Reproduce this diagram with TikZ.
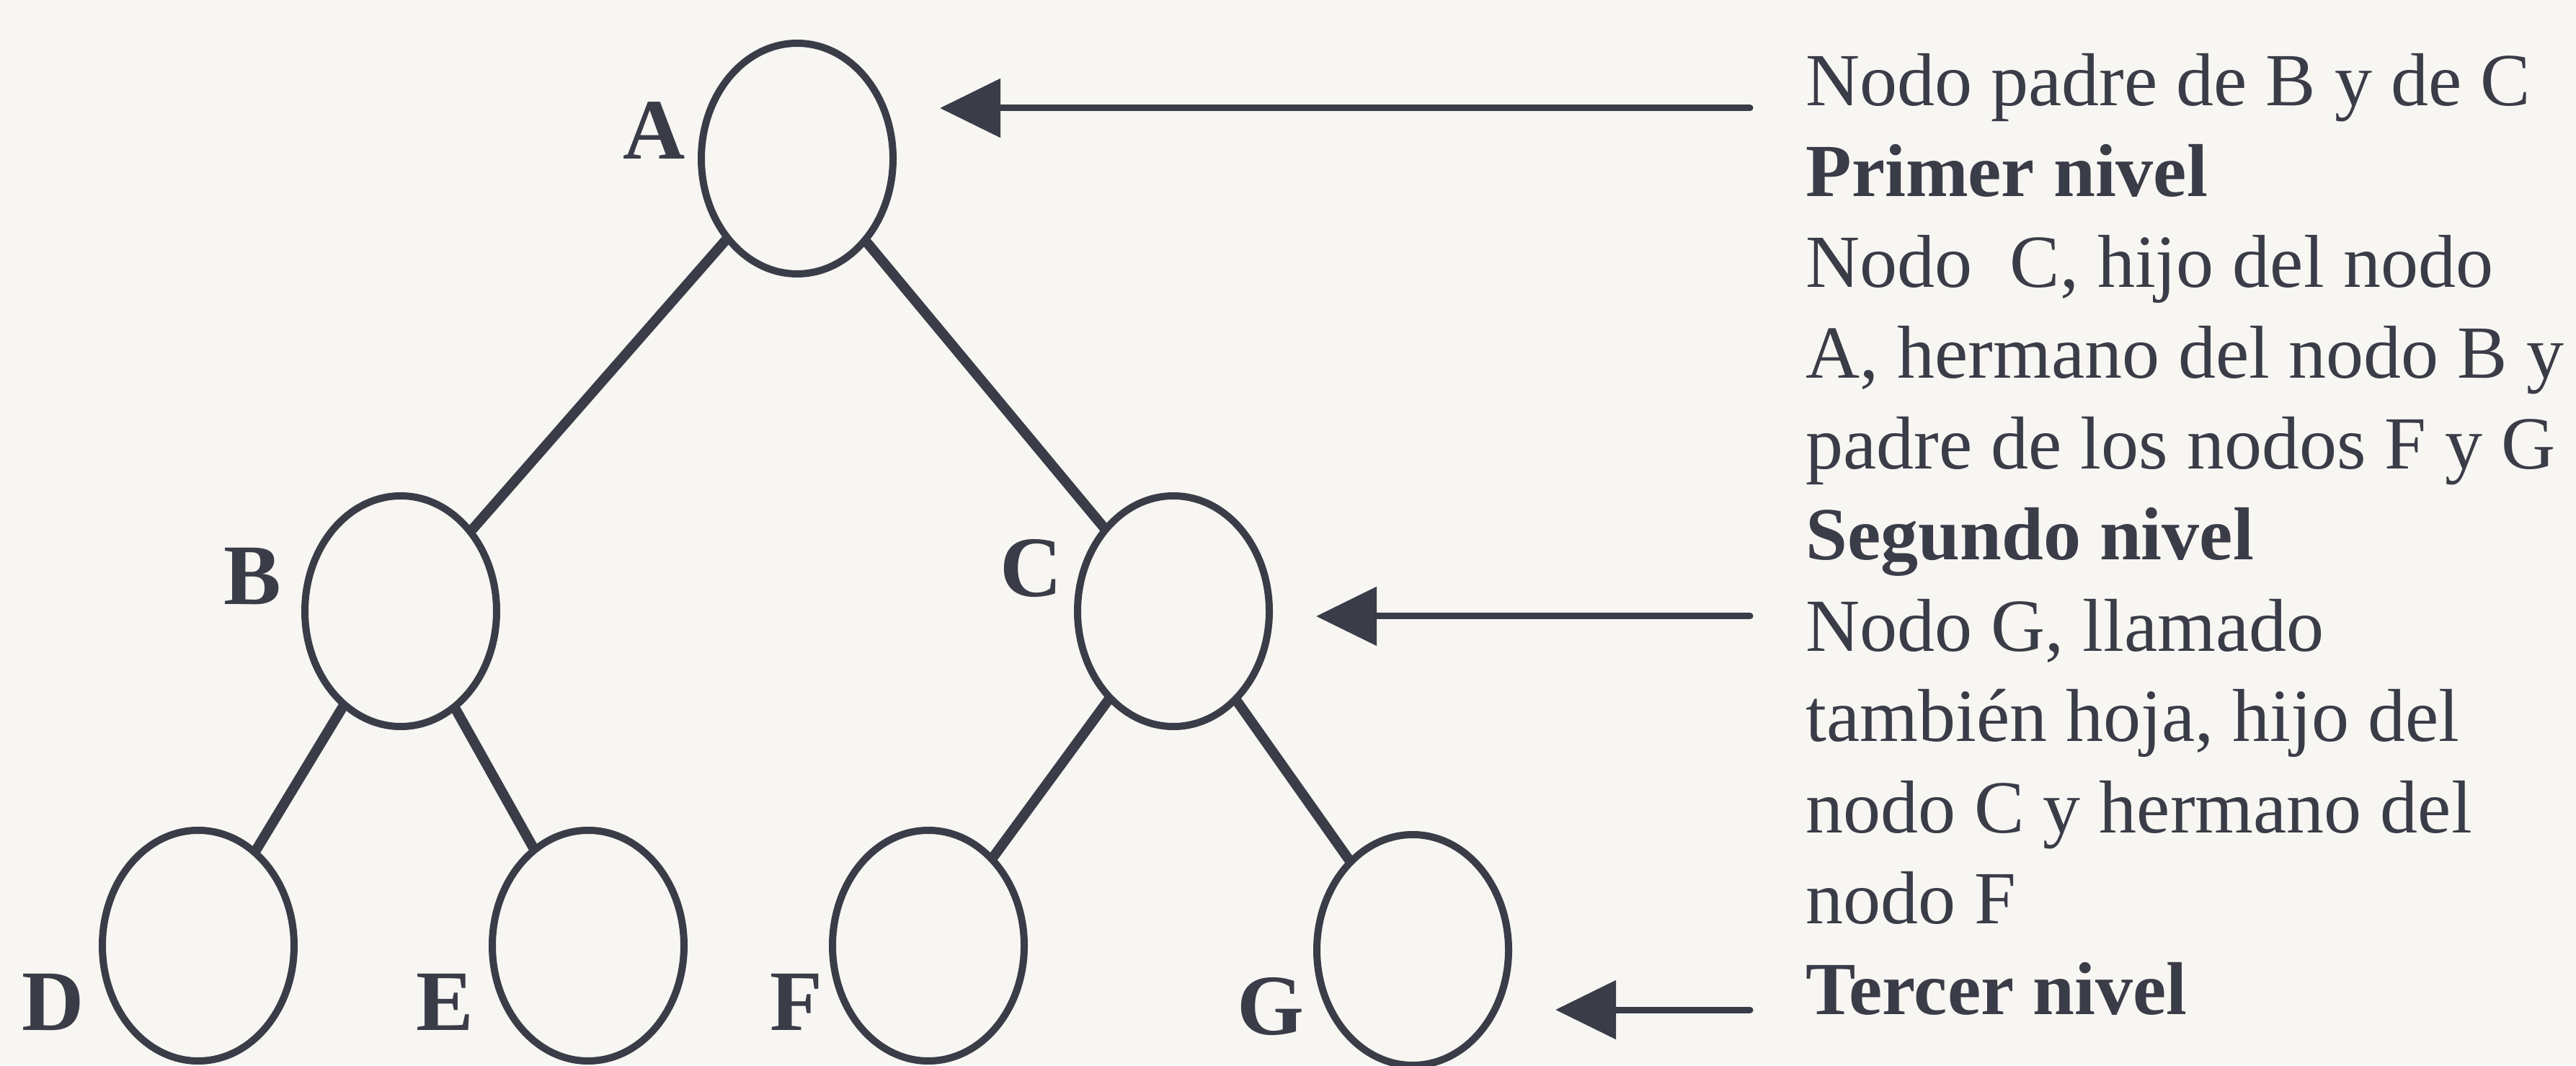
\documentclass[tikz,border=0pt]{standalone}
\usepackage{fontspec}
\setmainfont{Liberation Serif}
\usetikzlibrary{shapes.geometric,positioning,arrows.meta}
\definecolor{ink}{RGB}{58,60,72}
\definecolor{paper}{RGB}{247,246,242}
\begin{document}
\begin{tikzpicture}[line join=round, line cap=round, >={Triangle[length=4.2mm,width=4mm]},
  nodo/.style={ellipse, draw=ink, line width=0.05cm, minimum width=1.33cm, minimum height=1.6cm, inner sep=0pt},
  lab/.style={text=ink, inner sep=0pt, font=\fontsize{17}{17}\selectfont\bfseries},
  txt/.style={text=ink, inner sep=0pt, anchor=base west, font=\fontsize{14.8}{17.8}\selectfont},
  edge/.style={draw=ink, line width=0.07cm},
  pointer/.style={draw=ink, line width=0.045cm, ->, shorten >=0.3cm}]
\def \W{17.87};
\def \H{7.39};
\fill[paper] (0,0) rectangle (\W,\H);
\useasboundingbox (0,0) rectangle (\W,\H);
% arbol
\node[nodo] (A) at (5.53,6.29) {};
\node[nodo] (B) at (2.78,3.15) {};
\node[nodo] (C) at (8.14,3.15) {};
\node[nodo] (D) at (1.375,0.83) {};
\node[nodo] (E) at (4.08,0.83) {};
\node[nodo] (F) at (6.44,0.83) {};
\node[nodo] (G) at (9.80,0.80) {};
\foreach \a/\b in {A/B,A/C,B/D,B/E,C/F,C/G} \draw[edge] (\a) -- (\b);
\foreach \n/\g/\d in {A/164/1mm,B/160/1.6mm,C/155/1.2mm,D/213/1.8mm,E/213/1.8mm,F/213/1.2mm,G/213/1.4mm} \node[lab, left=\d of \n.\g] (l\n) {\n};
% texto
\foreach \i/\t in {0/{Nodo padre de B y de C},1/{\textbf{Primer nivel}},2/{Nodo~~C, hijo del nodo},3/{A, hermano del nodo B y},4/{padre de los nodos F y G},5/{\textbf{Segundo nivel}},6/{Nodo G, llamado},7/{también hoja, hijo del},8/{nodo C y hermano del},9/{nodo F},10/{\textbf{Tercer nivel}}}
  \node[txt] (l\i) at (12.52,{6.655-0.63*\i}) {\t};
\foreach \i/\n/\dy in {0/A/-0.015,6/C/0.24,10/G/0.03}{
  \coordinate (s\i) at ([shift={(-0.38,\dy)}]l\i.base west);
  \draw[pointer] (s\i) -- (\n.east |- s\i);}
\end{tikzpicture}
\end{document}
